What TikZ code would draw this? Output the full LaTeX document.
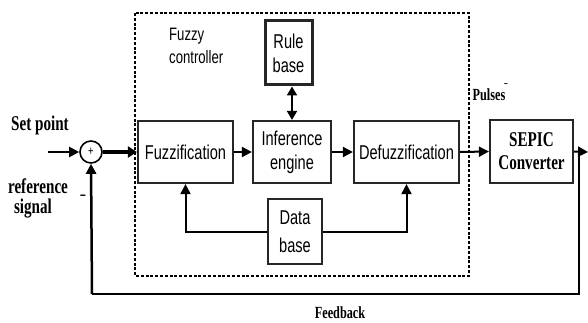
\documentclass[tikz,border=0pt]{standalone}
\usepackage{fontspec}
\usetikzlibrary{arrows.meta}
\newfontfamily\blkfont[FakeStretch=0.73]{Liberation Sans}
\newfontfamily\serfont[FakeStretch=0.72]{Liberation Serif}
\begin{document}
\begin{tikzpicture}[x=1pt,y=-1pt,
  blk/.style={draw=black!85,line width=2.2pt,inner sep=0pt,align=center,
    font=\blkfont\fontsize{20}{24}\selectfont},
  lbl/.style={inner sep=0pt,align=center,font=\serfont\bfseries\fontsize{21}{23}\selectfont},
  sml/.style={inner sep=0pt,font=\serfont\bfseries\fontsize{17}{18}\selectfont},
  sig/.style={line width=2pt,-{Triangle[length=10pt,width=10pt]}},
  ln/.style={line width=2pt}]
\useasboundingbox (0,0) rectangle (588,323);
% dashed fuzzy controller frame
\draw[line width=1.6pt,dash pattern=on 3pt off 1.8pt] (135,13) rectangle (469,276);
\node[anchor=west,inner sep=0pt,align=left,font=\blkfont\fontsize{18}{23}\selectfont] (fc) at (169,46) {Fuzzy\\controller};
% blocks
\node[blk,minimum width=95pt,minimum height=62pt] (fuzz) at (185.5,152) {Fuzzification};
\node[blk,minimum width=78pt,minimum height=62pt] (inf) at (292,152) {Inference\\engine};
\node[blk,minimum width=105pt,minimum height=62pt] (defuzz) at (406.5,152) {Defuzzification};
\node[blk,minimum width=47pt,minimum height=64pt,line width=3pt] (rule) at (288.5,53) {Rule\\base};
\node[blk,minimum width=54pt,minimum height=65pt,font=\blkfont\fontsize{20}{28}\selectfont] (db) at (295,231.5) {Data\\base};
\node[blk,minimum width=83pt,minimum height=63pt,font=\serfont\bfseries\fontsize{21}{23}\selectfont] (sepic) at (531.5,151.5) {SEPIC\\Converter};
% summing junction
\node[draw,circle,line width=1.6pt,minimum size=22pt,inner sep=0pt] (sum) at (91,152) {};
\node[inner sep=0pt,font=\blkfont\fontsize{13}{13}\selectfont] (plus) at (91,152) {+};
% labels
\node[lbl] (sp) at (40,125) {Set point};
\node[lbl] (ref) at (38,186) {reference};
\node[lbl] (sgn) at (33,209) {signal};
\node[inner sep=0pt,font=\blkfont\bfseries\fontsize{14}{14}\selectfont] (minus) at (83,197) {\textendash};
\node[sml] (pul) at (489,95) {Pulses};
\node[inner sep=0pt,font=\blkfont\bfseries\fontsize{9}{9}\selectfont] (pm) at (506,85) {\textendash};
\node[sml] (fb) at (340,313) {Feedback};
% coordinates
\coordinate (in) at (48,152);
\coordinate (out) at (588,152);
\coordinate (tap) at (579,152);
\coordinate (fbr) at (579,294);
\coordinate (fbl) at (92,294);
% connectors
\draw[sig] (in) -- (sum.west);
\draw[line width=4pt,-{Triangle[length=9pt,width=11pt]}] (sum.east) -- (fuzz.west);
\draw[sig] (fuzz.east) -- (inf.west);
\draw[sig] (inf.east) -- (defuzz.west);
\draw[sig] (defuzz.east) -- (sepic.west);
\draw[sig] (sepic.east) -- (out);
\draw[line width=2pt,{Triangle[length=9pt,width=10pt]}-{Triangle[length=9pt,width=10pt]}] (rule.south -| inf.north) -- (inf.north);
\draw[sig] (db.west) -| (fuzz.south);
\draw[sig] (db.east) -| (defuzz.south);
\draw[line width=2.5pt] (tap) -- (fbr) -- (fbl);
\draw[sig,line width=2.5pt] (fbl) -- (sum.south);
\end{tikzpicture}
\end{document}
